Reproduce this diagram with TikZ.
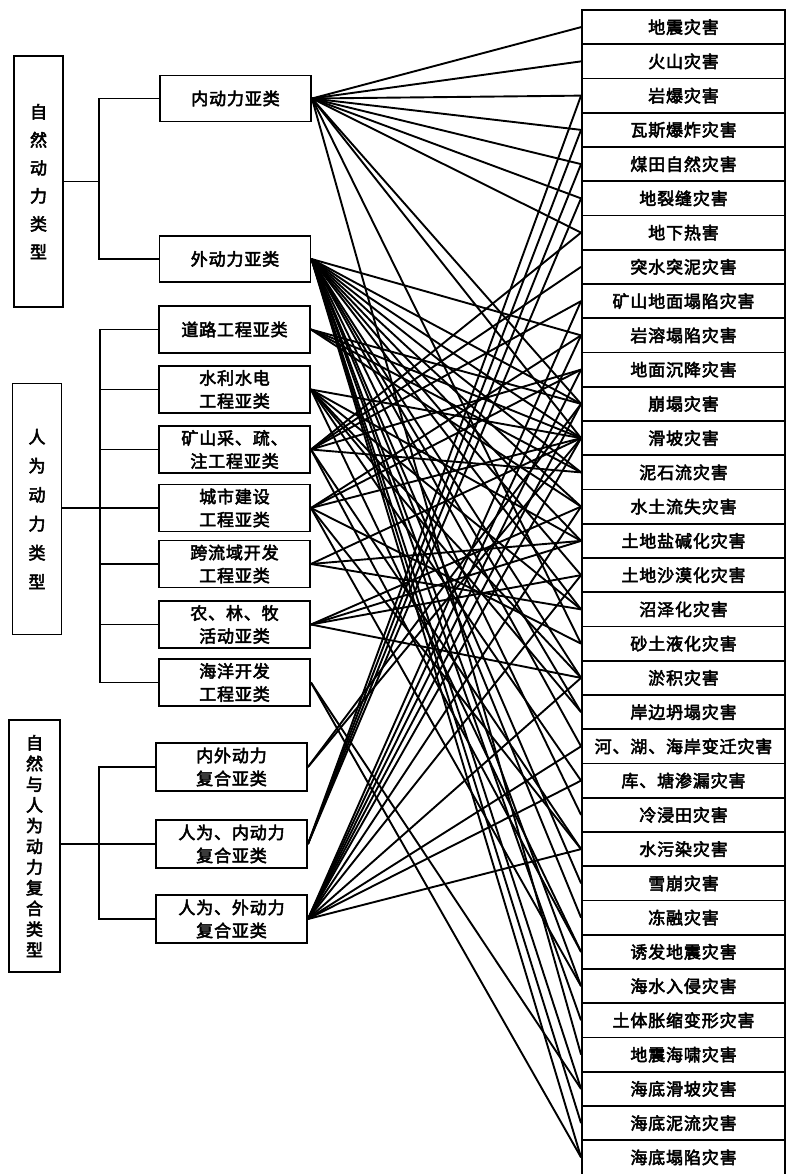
\documentclass[tikz,border=0pt]{standalone}
\usepackage{fontspec}
\newfontfamily\cjk[FakeBold=3,LetterSpace=5]{Noto Sans CJK SC}
\begin{document}
\begin{tikzpicture}[x=1pt,y=-1pt,
  line width=1.9pt,
  box/.style={draw,line width=1.9pt,inner sep=0pt,align=center,
    font=\cjk\fontsize{17}{23}\selectfont},
  midbox/.style={box,minimum width=151pt,minimum height=47pt},
  rbox/.style={box,minimum width=203pt,minimum height=34.25pt},
  vbox/.style={box,minimum width=49pt,minimum height=251pt},
  link/.style={line width=1.9pt}]
\useasboundingbox (0,0) rectangle (786,1174);
% left type boxes
\node[vbox,font=\cjk\fontsize{17}{28}\selectfont] (L1) at (38.5,181.5) {自\\然\\动\\力\\类\\型};
\node[vbox,font=\cjk\fontsize{17}{29}\selectfont] (L2) at (37,509) {人\\为\\动\\力\\类\\型};
\node[vbox,minimum width=51pt,minimum height=252pt,font=\cjk\fontsize{17}{20.7}\selectfont] (L3) at (34.5,846) {自\\然\\与\\人\\为\\动\\力\\复\\合\\类\\型};
% middle boxes
\node[midbox,minimum height=46pt] (N1) at (235.5,98.5) {内动力亚类};
\node[midbox,minimum height=46pt] (N2) at (235,259) {外动力亚类};
\node[midbox] (M1) at (234.5,329.5) {道路工程亚类};
\node[midbox] (M2) at (234.5,389.5) {水利水电\\工程亚类};
\node[midbox] (M3) at (234.5,449.5) {矿山采、疏、\\注工程亚类};
\node[midbox] (M4) at (234.5,508) {城市建设\\工程亚类};
\node[midbox] (M5) at (234.5,564) {跨流域开发\\工程亚类};
\node[midbox] (M6) at (234.5,624.5) {农、林、牧\\活动亚类};
\node[midbox] (M7) at (234.5,682.5) {海洋开发\\工程亚类};
\node[midbox,minimum height=48pt] (C1) at (231.5,767) {内外动力\\复合亚类};
\node[midbox,minimum height=48pt] (C2) at (231.5,844) {人为、内动力\\复合亚类};
\node[midbox,minimum height=48pt] (C3) at (231.5,919) {人为、外动力\\复合亚类};
% right boxes
\foreach \t [count=\i from 0] in {地震灾害,火山灾害,岩爆灾害,瓦斯爆炸灾害,煤田自然灾害,地裂缝灾害,地下热害,突水突泥灾害,矿山地面塌陷灾害,岩溶塌陷灾害,地面沉降灾害,崩塌灾害,滑坡灾害,泥石流灾害,水土流失灾害,土地盐碱化灾害,土地沙漠化灾害,沼泽化灾害,砂土液化灾害,淤积灾害,岸边坍塌灾害,河、湖、海岸变迁灾害,库、塘渗漏灾害,冷浸田灾害,水污染灾害,雪崩灾害,冻融灾害,诱发地震灾害,海水入侵灾害,土体胀缩变形灾害,地震海啸灾害,海底滑坡灾害,海底泥流灾害,海底塌陷灾害}
  \node[rbox] (r\i) at (683.5,{27.125+34.25*\i}) {\t};
% tree connectors
\coordinate (j1) at (99,181.5);
\draw (L1.east) -- (j1);
\draw (N1.west) -| (j1) |- (N2.west);
\coordinate (j2) at (100,508);
\draw (L2.east |- M4.west) -- (M4.west);
\draw (M1.west) -| (j2) |- (M7.west);
\foreach \m in {M2,M3,M5,M6} \draw (\m.west) -- (\m.west -| j2);
\coordinate (j3) at (99,844);
\draw (L3.east |- C2.west) -- (C2.west);
\draw (C1.west) -| (j3) |- (C3.west);
% links
\foreach \s/\t in {N1/0,N1/1,N1/2,N1/3,N1/4,N1/5,N1/6,N1/11,N1/12,N1/18,N1/30,
  N2/9,N2/11,N2/12,N2/13,N2/14,N2/15,N2/16,N2/17,N2/19,N2/20,N2/21,N2/23,N2/25,N2/26,N2/28,N2/29,N2/31,N2/32,N2/33,
  M1/11,M1/12,M1/13,M1/14,
  M2/12,M2/15,M2/17,M2/19,M2/20,M2/22,M2/27,
  M3/6,M3/7,M3/8,M3/10,M3/13,M3/24,M3/27,
  M4/9,M4/10,M4/12,M4/18,M4/24,M4/28,
  M5/12,M5/15,M5/17,
  M6/14,M6/15,M6/16,M6/19,
  M7/31,M7/33,
  C1/11,C1/12,
  C2/2,C2/3,C2/4,C2/5,
  C3/8,C3/9,C3/10,C3/11,C3/12,C3/14,C3/16,C3/19,C3/21,C3/22,C3/24}
  \draw[link] (\s.east) -- (r\t.west);
\end{tikzpicture}
\end{document}
